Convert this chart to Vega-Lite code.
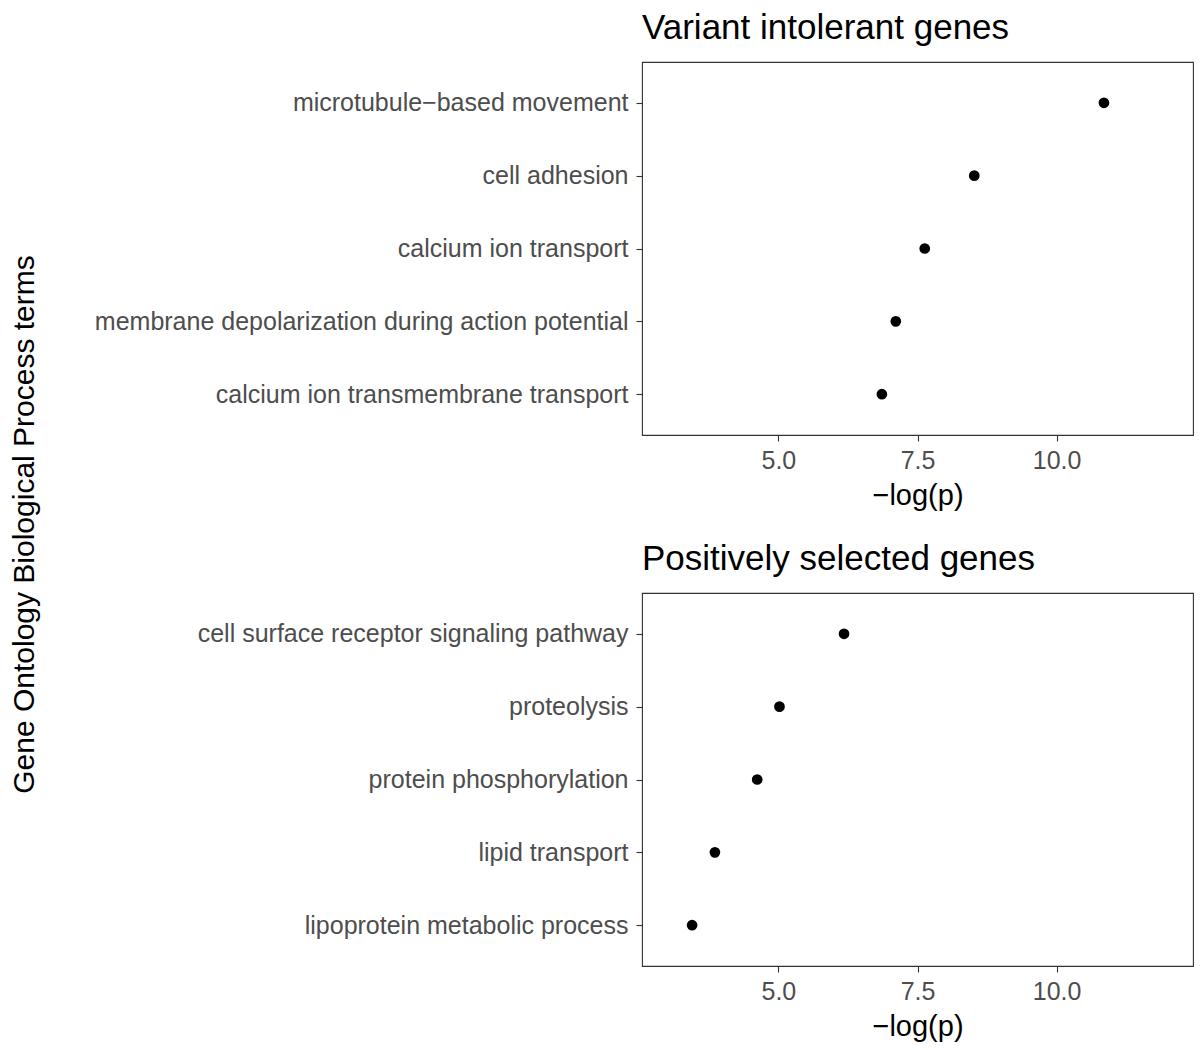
{
  "$schema": "https://vega.github.io/schema/vega-lite/v6.json",
  "background": "white",
  "autosize": {"type": "pad"},
  "padding": {"left": 8, "top": 10, "right": 7, "bottom": 5},
  "datasets": {
    "variant": [
      {"term": "microtubule−based movement", "neglogp": 10.85},
      {"term": "cell adhesion", "neglogp": 8.52},
      {"term": "calcium ion transport", "neglogp": 7.63},
      {"term": "membrane depolarization during action potential", "neglogp": 7.11},
      {"term": "calcium ion transmembrane transport", "neglogp": 6.86}
    ],
    "positive": [
      {"term": "cell surface receptor signaling pathway", "neglogp": 6.18},
      {"term": "proteolysis", "neglogp": 5.02},
      {"term": "protein phosphorylation", "neglogp": 4.62},
      {"term": "lipid transport", "neglogp": 3.86},
      {"term": "lipoprotein metabolic process", "neglogp": 3.45}
    ]
  },
  "bounds": "flush",
  "spacing": 158,
  "vconcat": [
    {
      "title": {"text": "Variant intolerant genes"},
      "width": 551,
      "height": 373,
      "data": {"name": "variant"},
      "mark": {"type": "point", "filled": true, "color": "black", "size": 115, "opacity": 1},
      "encoding": {
        "x": {
          "field": "neglogp", "type": "quantitative",
          "scale": {"domain": [2.55, 12.45], "nice": false, "zero": false},
          "axis": {"values": [5, 7.5, 10], "format": ".1f", "title": "−log(p)"}
        },
        "y": {
          "field": "term", "type": "nominal",
          "sort": ["microtubule−based movement", "cell adhesion", "calcium ion transport", "membrane depolarization during action potential", "calcium ion transmembrane transport"],
          "scale": {"type": "point", "padding": 0.56},
          "axis": {
            "title": "Gene Ontology Biological Process terms",
            "titleX": -609,
            "titleY": 462,
            "titleAngle": 270,
            "titleAlign": "center",
            "titleBaseline": "alphabetic",
            "titleFontSize": 30
          }
        }
      }
    },
    {
      "title": {"text": "Positively selected genes"},
      "width": 551,
      "height": 373,
      "data": {"name": "positive"},
      "mark": {"type": "point", "filled": true, "color": "black", "size": 115, "opacity": 1},
      "encoding": {
        "x": {
          "field": "neglogp", "type": "quantitative",
          "scale": {"domain": [2.55, 12.45], "nice": false, "zero": false},
          "axis": {"values": [5, 7.5, 10], "format": ".1f", "title": "−log(p)"}
        },
        "y": {
          "field": "term", "type": "nominal",
          "sort": ["cell surface receptor signaling pathway", "proteolysis", "protein phosphorylation", "lipid transport", "lipoprotein metabolic process"],
          "scale": {"type": "point", "padding": 0.56},
          "axis": {"title": null}
        }
      }
    }
  ],
  "config": {
    "font": "Liberation Sans",
    "view": {"stroke": "#333333", "strokeWidth": 1.1},
    "title": {
      "fontSize": 35,
      "fontWeight": "normal",
      "color": "black",
      "anchor": "start",
      "frame": "group",
      "offset": 16
    },
    "axis": {
      "domain": false,
      "grid": false,
      "ticks": true,
      "tickColor": "#333333",
      "tickWidth": 1.1,
      "tickSize": 6,
      "labelColor": "#4D4D4D",
      "labelFontSize": 25,
      "labelFont": "Liberation Sans",
      "labelLimit": 0,
      "titleFont": "Liberation Sans",
      "titleFontSize": 29,
      "titleFontWeight": "normal",
      "titleColor": "black"
    },
    "axisX": {"labelPadding": 7, "titlePadding": 8},
    "axisY": {"labelPadding": 8}
  }
}
